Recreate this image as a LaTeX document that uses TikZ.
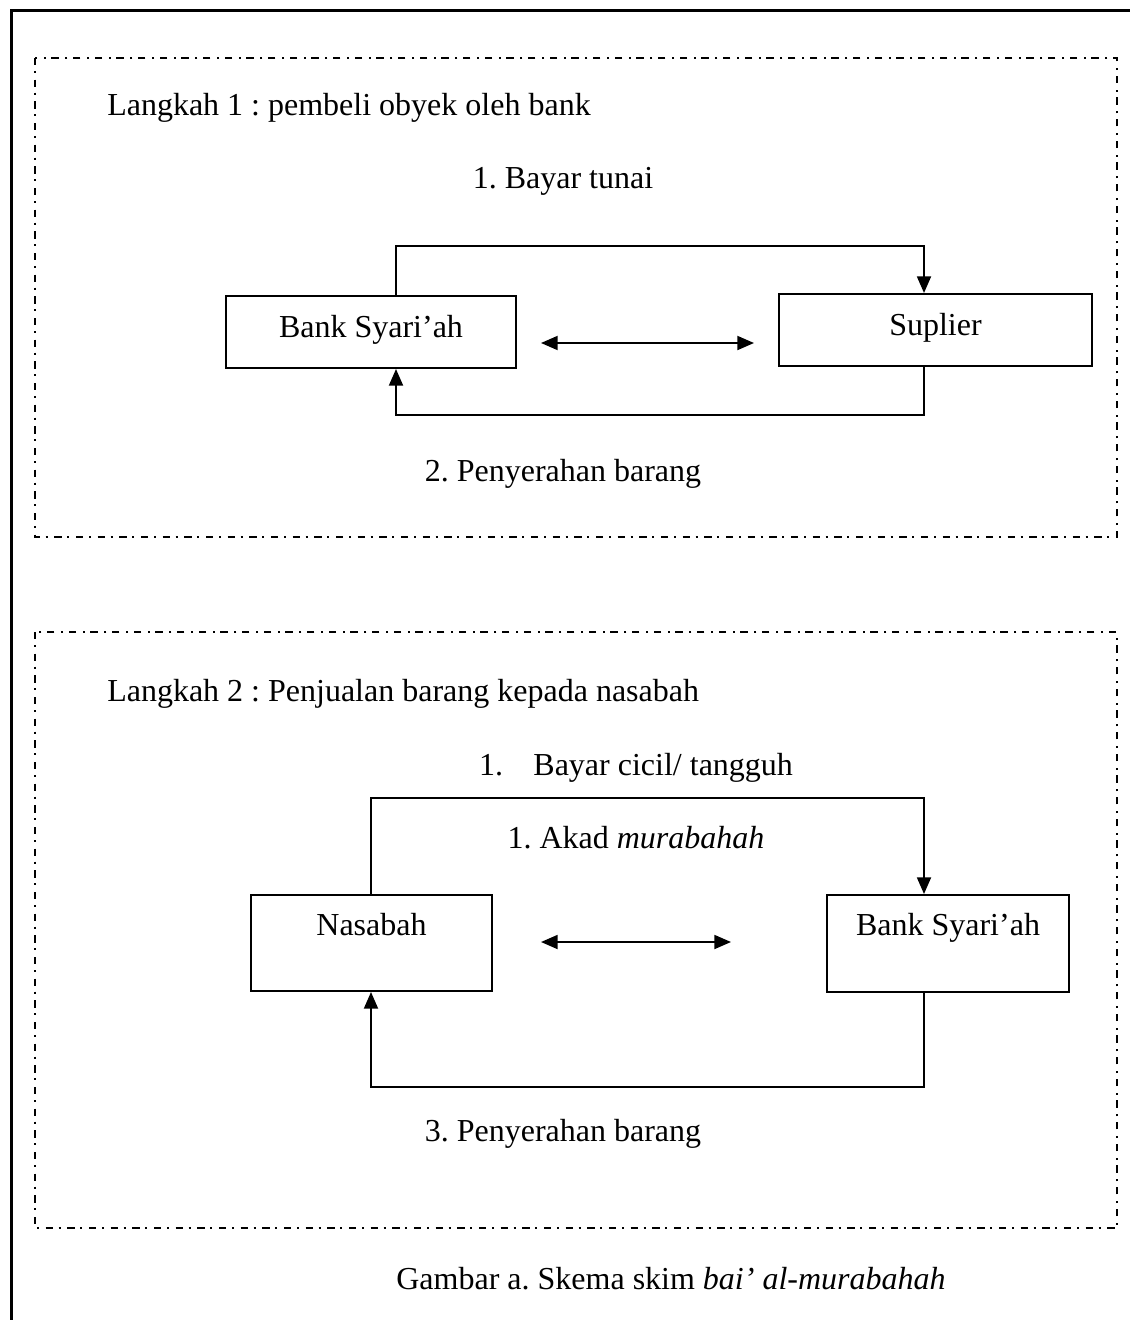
\documentclass[tikz,border=0pt]{standalone}
\usepackage{fontspec}
\setmainfont{Liberation Serif}
\usetikzlibrary{arrows.meta,calc}
\begin{document}
\frenchspacing
\begin{tikzpicture}[x=0.75pt,y=-0.75pt,
  every node/.style={font=\fontsize{24}{28}\selectfont, inner sep=0pt},
  boxnode/.style={draw, rectangle, line width=1.5pt},
  lbl/.style={anchor=base},
  conn/.style={line width=1.4pt, -{Triangle[length=12.5pt,width=10.5pt]}},
  dbl/.style={line width=1.4pt, {Triangle[length=12.5pt,width=10.5pt]}-{Triangle[length=12.5pt,width=10.5pt]}},
  dashframe/.style={line width=1.8pt, dash pattern=on 5.5pt off 4.25pt on 1.5pt off 5pt},
  outerframe/.style={line width=2.25pt}]
\useasboundingbox (0,0) rectangle (1130,1320);
% outer frame (right and bottom edges lie outside the picture)
\draw[outerframe] (11,1320) -- (11,11) -- (1130,11);
% dash-dot frames
\draw[dashframe] (35,58) rectangle (1117,537);
\draw[dashframe] (35,632) rectangle (1117,1228);

% Step 1
\node[lbl, anchor=base west] (t1) at (107,115) {Langkah 1 : pembeli obyek oleh bank};
\node[lbl] (pay1) at (563,188) {1. Bayar tunai};
\node[boxnode, minimum width=217.5pt, text height=30.75pt, text depth=23.25pt] (bank1) at (371,332) {Bank Syari’ah};
\node[boxnode, minimum width=234.75pt, text height=30.75pt, text depth=23.25pt] (sup) at (935.5,330) {Suplier};
\node[lbl] (del1) at (563,481) {2. Penyerahan barang};
\draw[conn] ($(bank1.north)+(25,0)$) -- ++(0,-49) -| ($(sup.north)+(-11.5,0)$);
\draw[conn] ($(sup.south)+(-11.5,0)$) -- ++(0,48) -| ($(bank1.south)+(25,0)$);
\draw[dbl] ($(bank1.east)+(24,11)$) -- ($(sup.west)+(-24,13)$);

% Step 2
\node[lbl, anchor=base west] (t2) at (107,701) {Langkah 2 : Penjualan barang kepada nasabah};
\node[lbl] (pay2) at (636,775) {1.\hspace{0.95em}Bayar cicil/ tangguh};
\node[lbl] (akad) at (636,848) {1. Akad \textit{murabahah}};
\node[boxnode, minimum width=180.75pt, text height=30pt, text depth=42pt] (nas) at (371.5,943) {Nasabah};
\node[boxnode, minimum width=181.5pt, text height=30pt, text depth=42.75pt] (bank2) at (948,943.5) {Bank Syari’ah};
\node[lbl] (del2) at (563,1141) {3. Penyerahan barang};
\draw[conn] ($(nas.north)+(-0.5,0)$) -- ++(0,-96) -| ($(bank2.north)+(-24,0)$);
\draw[conn] ($(bank2.south)+(-24,0)$) -- ++(0,94) -| ($(nas.south)+(-0.5,0)$);
\draw[dbl] ($(nas.east)+(48,-1)$) -- ($(bank2.west)+(-95,-1.5)$);

% caption
\node[lbl] (cap) at (671,1289) {Gambar a. Skema skim \textit{bai’ al-murabahah}};
\end{tikzpicture}
\end{document}
